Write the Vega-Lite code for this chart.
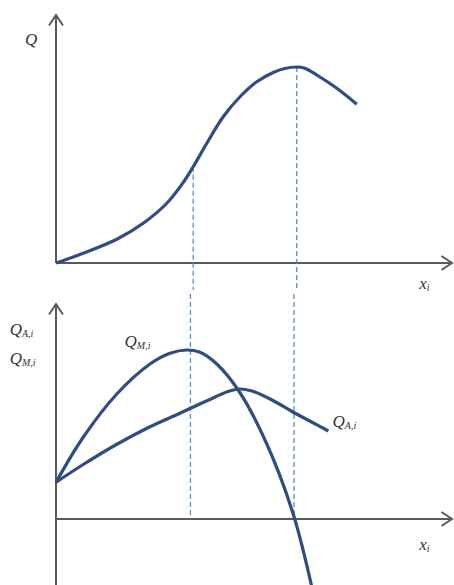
{
  "$schema": "https://vega.github.io/schema/vega-lite/v6.json",
  "padding": 0,
  "spacing": 0,
  "background": "white",
  "config": {"view": {"stroke": null}},
  "datasets": {
    "axesTop": [{"x": 0, "y": 0, "x2": 0, "y2": 9.92}, {"x": 0, "y": 0, "x2": 9.9, "y2": 0}],
    "arrowsTop": [{"x": 0, "y": 9.92, "dir": "up"}, {"x": 9.9, "y": 0, "dir": "right"}],
    "dashTop": [{"x": 3.43, "y": 3.85, "y2": -1.08}, {"x": 6.02, "y": 7.84, "y2": -1.08}],
    "curveQ": [
      {"x": 0, "y": 0}, {"x": 0.68, "y": 0.39}, {"x": 1.52, "y": 0.95}, {"x": 2.18, "y": 1.59},
      {"x": 2.77, "y": 2.39}, {"x": 3.18, "y": 3.22}, {"x": 3.43, "y": 3.85}, {"x": 3.77, "y": 4.79},
      {"x": 4.18, "y": 5.85}, {"x": 4.6, "y": 6.65}, {"x": 5.02, "y": 7.25}, {"x": 5.43, "y": 7.62},
      {"x": 5.72, "y": 7.78}, {"x": 6.02, "y": 7.84}, {"x": 6.22, "y": 7.79}, {"x": 6.52, "y": 7.52},
      {"x": 7.02, "y": 6.99}, {"x": 7.52, "y": 6.35}
    ],
    "labelsTop": [
      {"x": -0.47, "y": 8.92, "main": "Q", "sub": ""},
      {"x": 9.27, "y": -0.84, "main": "x", "sub": "i"}
    ],
    "axesBot": [{"x": 0, "y": -2.8, "x2": 0, "y2": 8.6}, {"x": 0, "y": 0, "x2": 9.9, "y2": 0}],
    "arrowsBot": [{"x": 0, "y": 8.6, "dir": "up"}, {"x": 9.9, "y": 0, "dir": "right"}],
    "dashBot": [{"x": 3.36, "y": 9.0, "y2": 0}, {"x": 5.95, "y": 9.0, "y2": 0}],
    "curves": [
      {"s": "M", "x": 0, "y": 1.47}, {"s": "M", "x": 0.68, "y": 3.27}, {"s": "M", "x": 1.52, "y": 5.0},
      {"s": "M", "x": 2.35, "y": 6.2}, {"s": "M", "x": 2.85, "y": 6.63}, {"s": "M", "x": 3.27, "y": 6.76},
      {"s": "M", "x": 3.6, "y": 6.67}, {"s": "M", "x": 4.02, "y": 6.2}, {"s": "M", "x": 4.6, "y": 5.05},
      {"s": "M", "x": 5.27, "y": 3.0}, {"s": "M", "x": 5.93, "y": 0.2}, {"s": "M", "x": 6.39, "y": -2.68},
      {"s": "A", "x": 0, "y": 1.47}, {"s": "A", "x": 0.7, "y": 2.2}, {"s": "A", "x": 1.5, "y": 2.97},
      {"s": "A", "x": 2.3, "y": 3.65}, {"s": "A", "x": 3.1, "y": 4.23}, {"s": "A", "x": 3.8, "y": 4.75},
      {"s": "A", "x": 4.3, "y": 5.1}, {"s": "A", "x": 4.58, "y": 5.2}, {"s": "A", "x": 4.9, "y": 5.12},
      {"s": "A", "x": 5.4, "y": 4.76}, {"s": "A", "x": 5.9, "y": 4.3}, {"s": "A", "x": 6.4, "y": 3.87},
      {"s": "A", "x": 6.81, "y": 3.52}
    ],
    "labelsBot": [
      {"x": -0.85, "y": 7.56, "main": "Q", "sub": "A,i"},
      {"x": -0.85, "y": 6.4, "main": "Q", "sub": "M,i"},
      {"x": 2.02, "y": 7.08, "main": "Q", "sub": "M,i"},
      {"x": 7.22, "y": 3.88, "main": "Q", "sub": "A,i"},
      {"x": 9.27, "y": -1.04, "main": "x", "sub": "i"}
    ]
  },
  "resolve": {"scale": {"x": "independent", "y": "independent"}},
  "vconcat": [
    {
      "width": 454,
      "height": 290,
      "encoding": {
        "x": {"field": "x", "type": "quantitative", "scale": {"domain": [-1.4, 9.95], "nice": false, "zero": false}, "axis": null},
        "y": {"field": "y", "type": "quantitative", "scale": {"domain": [-1.08, 10.52], "nice": false, "zero": false}, "axis": null}
      },
      "layer": [
        {
          "data": {"name": "axesTop"},
          "mark": {"type": "rule", "color": "#5a5a5a", "strokeWidth": 2},
          "encoding": {"x2": {"field": "x2"}, "y2": {"field": "y2"}}
        },
        {
          "data": {"name": "arrowsTop"},
          "mark": {"type": "point", "filled": false, "stroke": "#5a5a5a", "strokeWidth": 2, "size": 196, "opacity": 1},
          "encoding": {"shape": {"field": "dir", "type": "nominal", "legend": null, "scale": {"domain": ["up", "right"], "range": ["M-1,1.5L0,0L1,1.5", "M-1.5,-1L0,0L-1.5,1"]}}}
        },
        {
          "data": {"name": "dashTop"},
          "mark": {"type": "rule", "color": "#4f7fc4", "strokeWidth": 1.2, "strokeDash": [5, 3]},
          "encoding": {"y2": {"field": "y2"}}
        },
        {
          "data": {"name": "curveQ"},
          "mark": {"type": "line", "color": "#2f4d80", "strokeWidth": 3.2, "interpolate": "catmull-rom"},
          "encoding": {}
        },
        {
          "data": {"name": "labelsTop"},
          "mark": {"type": "text", "align": "right", "baseline": "middle", "font": "Liberation Serif", "fontStyle": "italic", "fontSize": 17, "color": "#333333"},
          "encoding": {"text": {"field": "main"}}
        },
        {
          "data": {"name": "labelsTop"},
          "mark": {"type": "text", "align": "left", "baseline": "middle", "dy": 4, "font": "Liberation Serif", "fontStyle": "italic", "fontSize": 10, "color": "#333333"},
          "encoding": {"text": {"field": "sub"}}
        }
      ]
    },
    {
      "width": 454,
      "height": 295,
      "encoding": {
        "x": {"field": "x", "type": "quantitative", "scale": {"domain": [-1.4, 9.95], "nice": false, "zero": false}, "axis": null},
        "y": {"field": "y", "type": "quantitative", "scale": {"domain": [-2.8, 9.0], "nice": false, "zero": false}, "axis": null}
      },
      "layer": [
        {
          "data": {"name": "axesBot"},
          "mark": {"type": "rule", "color": "#5a5a5a", "strokeWidth": 2},
          "encoding": {"x2": {"field": "x2"}, "y2": {"field": "y2"}}
        },
        {
          "data": {"name": "arrowsBot"},
          "mark": {"type": "point", "filled": false, "stroke": "#5a5a5a", "strokeWidth": 2, "size": 196, "opacity": 1},
          "encoding": {"shape": {"field": "dir", "type": "nominal", "legend": null, "scale": {"domain": ["up", "right"], "range": ["M-1,1.5L0,0L1,1.5", "M-1.5,-1L0,0L-1.5,1"]}}}
        },
        {
          "data": {"name": "dashBot"},
          "mark": {"type": "rule", "color": "#4f7fc4", "strokeWidth": 1.2, "strokeDash": [5, 3]},
          "encoding": {"y2": {"field": "y2"}}
        },
        {
          "data": {"name": "curves"},
          "mark": {"type": "line", "color": "#2f4d80", "strokeWidth": 3.2, "interpolate": "catmull-rom", "clip": true},
          "encoding": {"detail": {"field": "s"}}
        },
        {
          "data": {"name": "labelsBot"},
          "mark": {"type": "text", "align": "right", "baseline": "middle", "font": "Liberation Serif", "fontStyle": "italic", "fontSize": 17, "color": "#333333"},
          "encoding": {"text": {"field": "main"}}
        },
        {
          "data": {"name": "labelsBot"},
          "mark": {"type": "text", "align": "left", "baseline": "middle", "dy": 4, "font": "Liberation Serif", "fontStyle": "italic", "fontSize": 10, "color": "#333333"},
          "encoding": {"text": {"field": "sub"}}
        }
      ]
    }
  ]
}
